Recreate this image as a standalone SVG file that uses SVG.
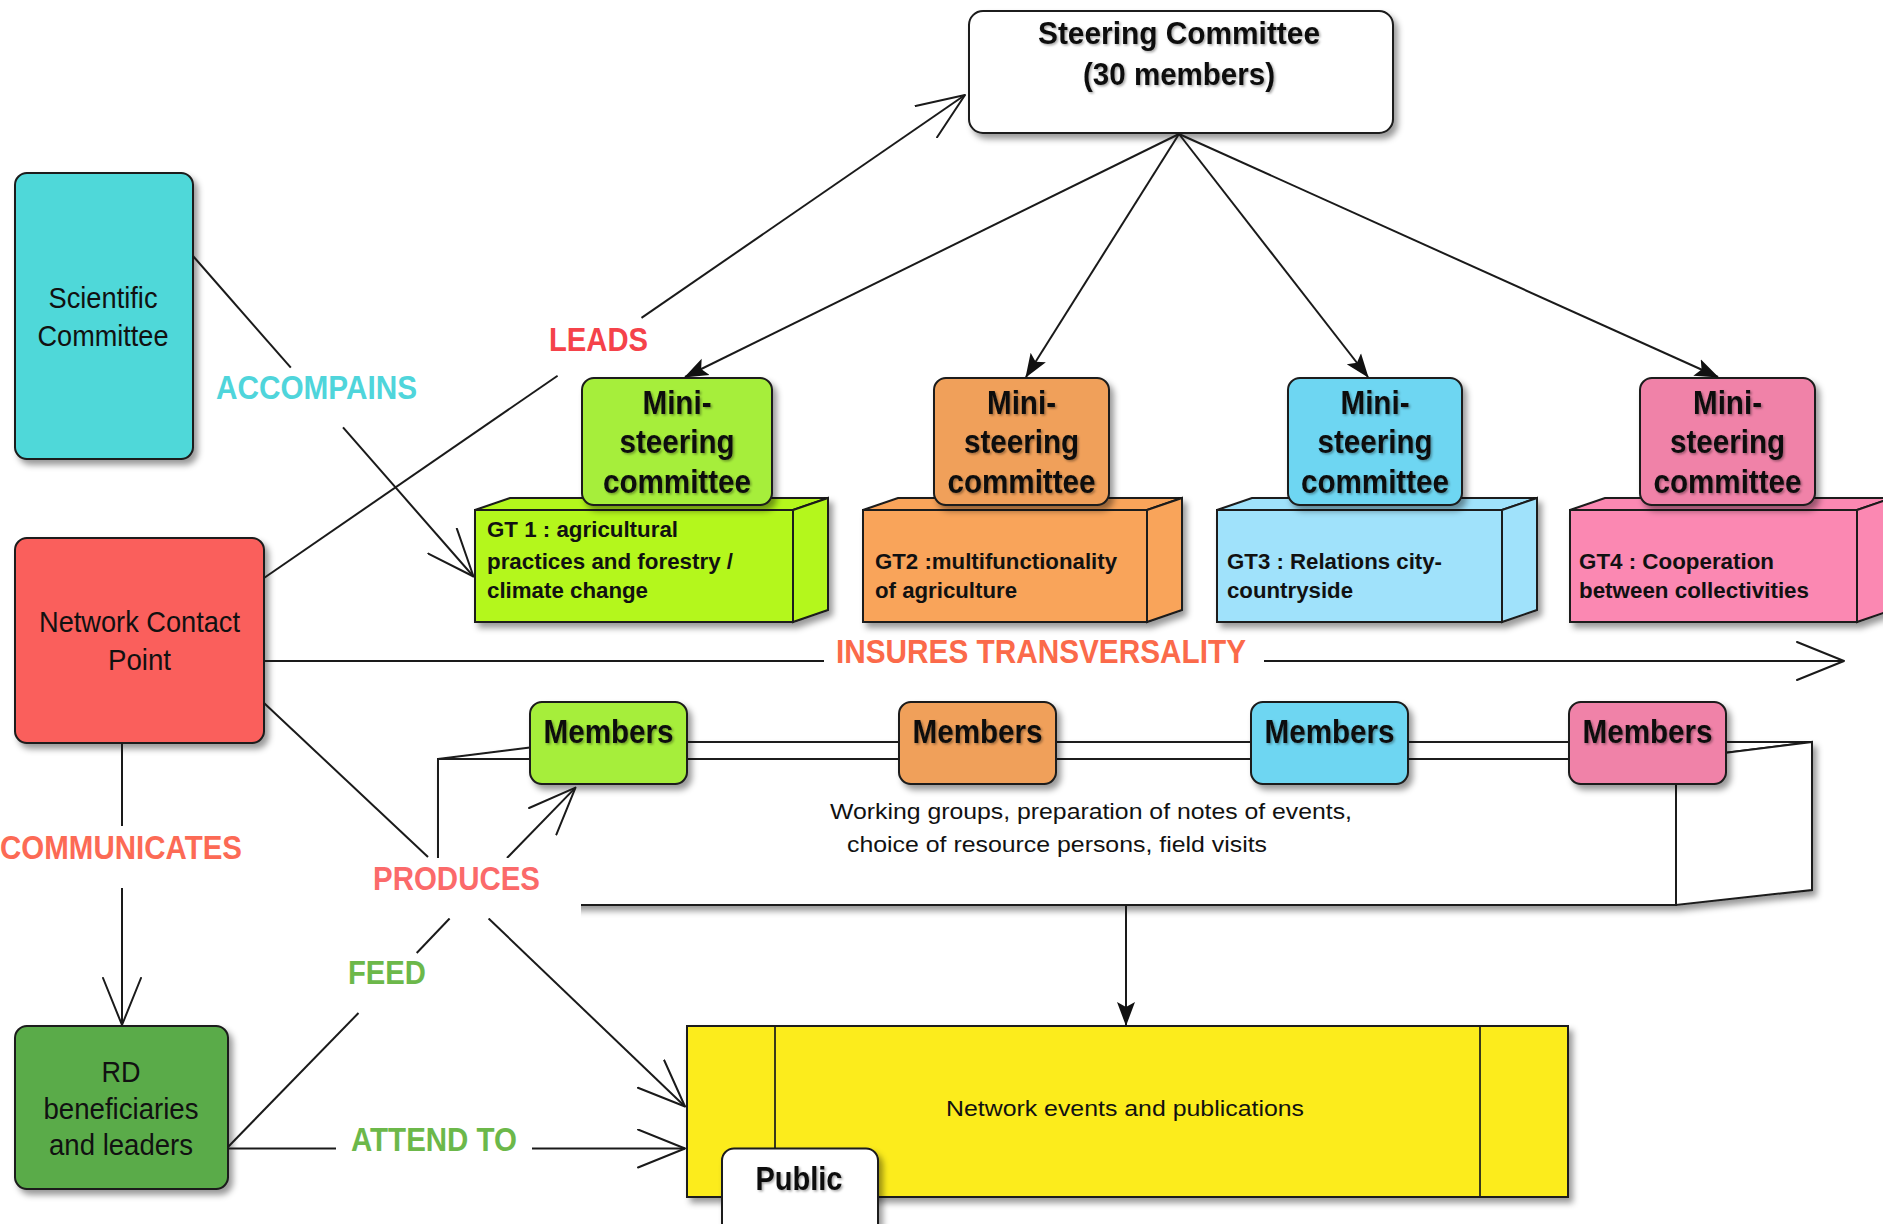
<svg xmlns="http://www.w3.org/2000/svg" width="1883" height="1224" viewBox="0 0 1883 1224">
<defs>
<style>
.bx{stroke:#1a1a1a;stroke-width:2}
.t{font-family:"Liberation Sans",Arial,Helvetica,sans-serif;fill:#111}
.b{font-weight:bold}
.m{text-anchor:middle}
.lab{font-family:"Liberation Sans",Arial,Helvetica,sans-serif;font-weight:bold;font-size:34px}
</style>
<filter id="sh" x="-10%" y="-10%" width="130%" height="140%">
<feDropShadow dx="4" dy="5" stdDeviation="3" flood-color="#000" flood-opacity="0.4"/>
</filter>
<filter id="ts" x="-5%" y="-20%" width="115%" height="150%">
<feDropShadow dx="1.5" dy="1.5" stdDeviation="0.8" flood-color="#000" flood-opacity="0.35"/>
</filter>
<marker id="open" markerUnits="userSpaceOnUse" viewBox="0 0 50 40" refX="48" refY="20" markerWidth="50" markerHeight="40" orient="auto">
<path d="M1,1 L48,20 L1,39" fill="none" stroke="#1a1a1a" stroke-width="2" stroke-linejoin="round" stroke-linecap="round"/>
</marker>
<marker id="solid" markerUnits="userSpaceOnUse" viewBox="0 0 24 20" refX="23" refY="10" markerWidth="24" markerHeight="20" orient="auto">
<path d="M0,1 L24,10 L0,19 L5,10 z" fill="#111"/>
</marker>
</defs>
<rect width="1883" height="1224" fill="#fff"/>

<!-- Steering committee -->
<g id="steering-committee">
<rect class="bx" x="969" y="11" width="424" height="122" rx="14" fill="#fff" filter="url(#sh)"/>
<g filter="url(#ts)">
<text class="t b m" x="1179" y="44" font-size="31" textLength="282" lengthAdjust="spacingAndGlyphs">Steering Committee</text>
<text class="t b m" x="1179" y="85" font-size="31" textLength="192" lengthAdjust="spacingAndGlyphs">(30 members)</text>
</g>
</g>

<!-- GT boxes -->
<g id="gt1" filter="url(#sh)">
<rect class="bx" x="475" y="510" width="318" height="112" fill="#b4f71c"/>
<polygon class="bx" points="475,510 510,498 828,498 793,510" fill="#b4f71c"/>
<polygon class="bx" points="793,510 828,498 828,610 793,622" fill="#b4f71c"/>
</g>
<g id="gt1-text">
<text class="t b" x="487" y="537" font-size="22" textLength="191" lengthAdjust="spacingAndGlyphs">GT 1 : agricultural</text>
<text class="t b" x="487" y="569" font-size="22" textLength="246" lengthAdjust="spacingAndGlyphs">practices and forestry /</text>
<text class="t b" x="487" y="598" font-size="22" textLength="161" lengthAdjust="spacingAndGlyphs">climate change</text>
</g>
<g id="gt2" filter="url(#sh)">
<rect class="bx" x="863" y="510" width="284" height="112" fill="#f9a45a"/>
<polygon class="bx" points="863,510 898,498 1182,498 1147,510" fill="#f9a45a"/>
<polygon class="bx" points="1147,510 1182,498 1182,610 1147,622" fill="#f9a45a"/>
</g>
<g id="gt2-text">
<text class="t b" x="875" y="569" font-size="22" textLength="242" lengthAdjust="spacingAndGlyphs">GT2 :multifunctionality</text>
<text class="t b" x="875" y="598" font-size="22" textLength="142" lengthAdjust="spacingAndGlyphs">of agriculture</text>
</g>
<g id="gt3" filter="url(#sh)">
<rect class="bx" x="1217" y="510" width="285" height="112" fill="#a0e2fb"/>
<polygon class="bx" points="1217,510 1252,498 1537,498 1502,510" fill="#a0e2fb"/>
<polygon class="bx" points="1502,510 1537,498 1537,610 1502,622" fill="#a0e2fb"/>
</g>
<g id="gt3-text">
<text class="t b" x="1227" y="569" font-size="22" textLength="215" lengthAdjust="spacingAndGlyphs">GT3 : Relations city-</text>
<text class="t b" x="1227" y="598" font-size="22" textLength="126" lengthAdjust="spacingAndGlyphs">countryside</text>
</g>
<g id="gt4" filter="url(#sh)">
<rect class="bx" x="1570" y="510" width="287" height="112" fill="#fb88b2"/>
<polygon class="bx" points="1570,510 1605,498 1892,498 1857,510" fill="#fb88b2"/>
<polygon class="bx" points="1857,510 1892,498 1892,610 1857,622" fill="#fb88b2"/>
</g>
<g id="gt4-text">
<text class="t b" x="1579" y="569" font-size="22" textLength="195" lengthAdjust="spacingAndGlyphs">GT4 : Cooperation</text>
<text class="t b" x="1579" y="598" font-size="22" textLength="230" lengthAdjust="spacingAndGlyphs">between collectivities</text>
</g>

<!-- Mini steering committees -->
<g id="mini1">
<rect class="bx" x="582" y="378" width="190" height="127" rx="12" fill="#a6ee3a" filter="url(#sh)"/>
<g filter="url(#ts)">
<text class="t b m" x="677" y="414" font-size="34" textLength="69" lengthAdjust="spacingAndGlyphs">Mini-</text>
<text class="t b m" x="677" y="453" font-size="34" textLength="115" lengthAdjust="spacingAndGlyphs">steering</text>
<text class="t b m" x="677" y="493" font-size="34" textLength="148" lengthAdjust="spacingAndGlyphs">committee</text>
</g>
</g>
<g id="mini2">
<rect class="bx" x="934" y="378" width="175" height="127" rx="12" fill="#f0a05a" filter="url(#sh)"/>
<g filter="url(#ts)">
<text class="t b m" x="1021.5" y="414" font-size="34" textLength="69" lengthAdjust="spacingAndGlyphs">Mini-</text>
<text class="t b m" x="1021.5" y="453" font-size="34" textLength="115" lengthAdjust="spacingAndGlyphs">steering</text>
<text class="t b m" x="1021.5" y="493" font-size="34" textLength="148" lengthAdjust="spacingAndGlyphs">committee</text>
</g>
</g>
<g id="mini3">
<rect class="bx" x="1288" y="378" width="174" height="127" rx="12" fill="#6ed6f2" filter="url(#sh)"/>
<g filter="url(#ts)">
<text class="t b m" x="1375" y="414" font-size="34" textLength="69" lengthAdjust="spacingAndGlyphs">Mini-</text>
<text class="t b m" x="1375" y="453" font-size="34" textLength="115" lengthAdjust="spacingAndGlyphs">steering</text>
<text class="t b m" x="1375" y="493" font-size="34" textLength="148" lengthAdjust="spacingAndGlyphs">committee</text>
</g>
</g>
<g id="mini4">
<rect class="bx" x="1640" y="378" width="175" height="127" rx="12" fill="#f082a8" filter="url(#sh)"/>
<g filter="url(#ts)">
<text class="t b m" x="1727.5" y="414" font-size="34" textLength="69" lengthAdjust="spacingAndGlyphs">Mini-</text>
<text class="t b m" x="1727.5" y="453" font-size="34" textLength="115" lengthAdjust="spacingAndGlyphs">steering</text>
<text class="t b m" x="1727.5" y="493" font-size="34" textLength="148" lengthAdjust="spacingAndGlyphs">committee</text>
</g>
</g>

<!-- Working groups box -->
<g id="working-groups">
<g filter="url(#sh)">
<polygon class="bx" points="438,759 1676,759 1676,905 438,905" fill="#fff"/>
<polygon class="bx" points="438,759 574,742 1812,742 1676,759" fill="#fff"/>
<polygon class="bx" points="1676,759 1812,742 1812,890 1676,905" fill="#fff"/>
</g>
<text class="t" x="830" y="819" font-size="22" textLength="522" lengthAdjust="spacingAndGlyphs">Working groups, preparation of notes of events,</text>
<text class="t" x="847" y="852" font-size="22" textLength="420" lengthAdjust="spacingAndGlyphs">choice of resource persons, field visits</text>
</g>

<!-- Members -->
<g id="members1">
<rect class="bx" x="530" y="702" width="157" height="82" rx="12" fill="#a6ee3a" filter="url(#sh)"/>
<text class="t b m" x="608.5" y="743" font-size="33" textLength="130" lengthAdjust="spacingAndGlyphs" filter="url(#ts)">Members</text>
</g>
<g id="members2">
<rect class="bx" x="899" y="702" width="157" height="82" rx="12" fill="#f0a05a" filter="url(#sh)"/>
<text class="t b m" x="977.5" y="743" font-size="33" textLength="130" lengthAdjust="spacingAndGlyphs" filter="url(#ts)">Members</text>
</g>
<g id="members3">
<rect class="bx" x="1251" y="702" width="157" height="82" rx="12" fill="#6ed6f2" filter="url(#sh)"/>
<text class="t b m" x="1329.5" y="743" font-size="33" textLength="130" lengthAdjust="spacingAndGlyphs" filter="url(#ts)">Members</text>
</g>
<g id="members4">
<rect class="bx" x="1569" y="702" width="157" height="82" rx="12" fill="#f082a8" filter="url(#sh)"/>
<text class="t b m" x="1647.5" y="743" font-size="33" textLength="130" lengthAdjust="spacingAndGlyphs" filter="url(#ts)">Members</text>
</g>

<!-- Network events and publications -->
<g id="network-events">
<rect class="bx" x="687" y="1026" width="881" height="171" fill="#fcec1a" filter="url(#sh)"/>
<line x1="775" y1="1027" x2="775" y2="1196" stroke="#3a3a1a" stroke-width="2"/>
<line x1="1480" y1="1027" x2="1480" y2="1196" stroke="#3a3a1a" stroke-width="2"/>
<text class="t m" x="1125" y="1116" font-size="22" textLength="358" lengthAdjust="spacingAndGlyphs">Network events and publications</text>
</g>
<g id="public">
<rect class="bx" x="722" y="1148.5" width="156" height="100" rx="12" fill="#fff" filter="url(#sh)"/>
<text class="t b m" x="799" y="1190" font-size="33" textLength="87" lengthAdjust="spacingAndGlyphs" filter="url(#ts)">Public</text>
</g>

<!-- Left nodes -->
<g id="scientific-committee">
<rect class="bx" x="15" y="173" width="178" height="286" rx="12" fill="#4fd8d9" filter="url(#sh)"/>
<text class="t m" x="103" y="308" font-size="29" textLength="109" lengthAdjust="spacingAndGlyphs">Scientific</text>
<text class="t m" x="103" y="346" font-size="29" textLength="131" lengthAdjust="spacingAndGlyphs">Committee</text>
</g>
<g id="network-contact-point">
<rect class="bx" x="15" y="538" width="249" height="205" rx="12" fill="#fa5f5b" filter="url(#sh)"/>
<text class="t m" x="139.5" y="632" font-size="29" textLength="201" lengthAdjust="spacingAndGlyphs">Network Contact</text>
<text class="t m" x="139.5" y="670" font-size="29" textLength="63" lengthAdjust="spacingAndGlyphs">Point</text>
</g>
<g id="rd-beneficiaries">
<rect class="bx" x="15" y="1026" width="213" height="163" rx="12" fill="#5aab4a" filter="url(#sh)"/>
<text class="t m" x="121" y="1082" font-size="29" textLength="39" lengthAdjust="spacingAndGlyphs">RD</text>
<text class="t m" x="121" y="1119" font-size="29" textLength="155" lengthAdjust="spacingAndGlyphs">beneficiaries</text>
<text class="t m" x="121" y="1155" font-size="29" textLength="144" lengthAdjust="spacingAndGlyphs">and leaders</text>
</g>

<!-- Connectors -->
<g id="connectors" fill="none" stroke="#1a1a1a" stroke-width="2">
<line x1="1179" y1="134" x2="685" y2="377" marker-end="url(#solid)"/>
<line x1="1179" y1="134" x2="1026" y2="377" marker-end="url(#solid)"/>
<line x1="1179" y1="134" x2="1368" y2="377" marker-end="url(#solid)"/>
<line x1="1179" y1="134" x2="1718" y2="377" marker-end="url(#solid)"/>
<line x1="264" y1="578" x2="557.6" y2="375.7"/>
<line x1="641.5" y1="317.9" x2="965" y2="95" marker-end="url(#open)"/>
<line x1="193" y1="256" x2="290.8" y2="367.7"/>
<line x1="343" y1="427.4" x2="473.5" y2="576.5" marker-end="url(#open)"/>
<line x1="264" y1="661" x2="824" y2="661"/>
<line x1="1264" y1="661" x2="1844" y2="661" marker-end="url(#open)"/>
<line x1="122" y1="743" x2="122" y2="826"/>
<line x1="122" y1="888" x2="122" y2="1025" marker-end="url(#open)"/>
<line x1="264" y1="703" x2="428" y2="857"/>
<line x1="507" y1="858" x2="575.5" y2="787.6" marker-end="url(#open)"/>
<line x1="488.6" y1="918.5" x2="685" y2="1106.5" marker-end="url(#open)"/>
<line x1="228" y1="1147" x2="358.5" y2="1013"/>
<line x1="416.7" y1="953" x2="449.6" y2="918.5"/>
<line x1="228" y1="1148.5" x2="336" y2="1148.5"/>
<line x1="532" y1="1148.5" x2="685" y2="1148.5" marker-end="url(#open)"/>
<line x1="1126" y1="905" x2="1126" y2="1025" marker-end="url(#solid)"/>
</g>

<!-- Connector labels -->
<g id="labels">
<rect x="331" y="858" width="250" height="60" fill="#fff"/>
<text class="lab" x="549" y="351" fill="#f5424a" textLength="99" lengthAdjust="spacingAndGlyphs">LEADS</text>
<text class="lab" x="216" y="399" fill="#4fd5db" textLength="201" lengthAdjust="spacingAndGlyphs">ACCOMPAINS</text>
<text class="lab" x="836" y="663" fill="#fb6a4a" textLength="410" lengthAdjust="spacingAndGlyphs">INSURES TRANSVERSALITY</text>
<text class="lab" x="0" y="859" fill="#fc6a55" textLength="242" lengthAdjust="spacingAndGlyphs">COMMUNICATES</text>
<text class="lab" x="373" y="890" fill="#fb6a6a" textLength="167" lengthAdjust="spacingAndGlyphs">PRODUCES</text>
<text class="lab" x="348" y="984" fill="#6cb84a" textLength="78" lengthAdjust="spacingAndGlyphs">FEED</text>
<text class="lab" x="351" y="1151" fill="#6cb84a" textLength="166" lengthAdjust="spacingAndGlyphs">ATTEND TO</text>
</g>
</svg>
